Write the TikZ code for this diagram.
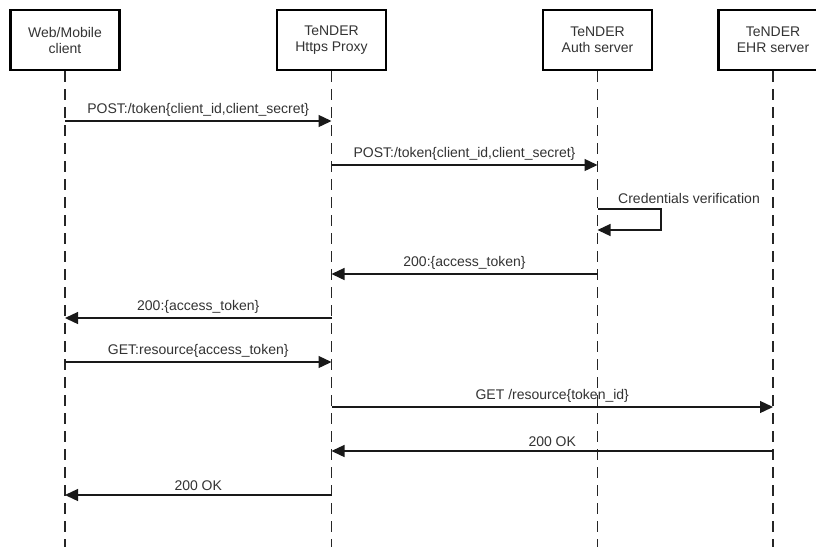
\documentclass[tikz,border=0pt]{standalone}
\usepackage{fontspec}
\setmainfont{Liberation Sans}
\usetikzlibrary{arrows.meta}
\begin{document}
\begin{tikzpicture}[x=1pt,y=-1pt,
  font=\fontsize{14}{16}\selectfont,
  actor/.style={draw, line width=2.4pt, minimum width=109pt, minimum height=60pt, align=center, inner sep=2pt, fill=white, text=black!80},
  life/.style={line width=1.1pt, dash pattern=on 11pt off 7pt, black!85},
  msg/.style={line width=1.3pt, black!90, -{Triangle[length=13pt,width=12pt]}},
  lbl/.style={text=black!80, inner sep=0pt, font=\fontsize{14}{16}\selectfont}
]
\useasboundingbox (0,0) rectangle (816,547);
\clip (0,0) rectangle (816,547);
\fill[white] (0,0) rectangle (816,547);

% lifelines
\coordinate (wb) at (65,547);
\coordinate (pb) at (331.5,547);
\coordinate (ab) at (597.5,547);
\coordinate (eb) at (773,547);

\node[actor] (web) at (65,40) {Web/Mobile\\client};
\node[actor] (proxy) at (331.5,40) {TeNDER\\Https Proxy};
\node[actor] (auth) at (597.5,40) {TeNDER\\Auth server};
\node[actor] (ehr) at (773,40) {TeNDER\\EHR server};

\draw[life] (web.south) -- (wb);
\draw[life] (proxy.south) -- (pb);
\draw[life] (auth.south) -- (ab);
\draw[life] (ehr.south) -- (eb);

% message coordinates
\coordinate (w1) at (65,121);   \coordinate (p1) at (331.5,121);
\coordinate (p2) at (331.5,165); \coordinate (a2) at (597.5,165);
\coordinate (a3) at (597.5,209); \coordinate (a3b) at (597.5,230);
\coordinate (a4) at (597.5,274); \coordinate (p4) at (331.5,274);
\coordinate (p5) at (331.5,318); \coordinate (w5) at (65,318);
\coordinate (w6) at (65,362);   \coordinate (p6) at (331.5,362);
\coordinate (p7) at (331.5,407); \coordinate (e7) at (773,407);
\coordinate (e8) at (773,451);  \coordinate (p8) at (331.5,451);
\coordinate (p9) at (331.5,495); \coordinate (w9) at (65,495);

\draw[msg] (w1) -- node[lbl, above=4pt] (l1) {POST:/token\{client\_id,client\_secret\}} (p1);
\draw[msg] (p2) -- node[lbl, above=4pt] (l2) {POST:/token\{client\_id,client\_secret\}} (a2);
\draw[msg] (a3) -- ++(63.5,0) coordinate (c3) |- (a3b);
\node[lbl, anchor=south west] (l3) at (618,204) {Credentials verification};
\draw[msg] (a4) -- node[lbl, above=4pt] (l4) {200:\{access\_token\}} (p4);
\draw[msg] (p5) -- node[lbl, above=4pt] (l5) {200:\{access\_token\}} (w5);
\draw[msg] (w6) -- node[lbl, above=4pt] (l6) {GET:resource\{access\_token\}} (p6);
\draw[msg] (p7) -- node[lbl, above=4pt] (l7) {GET /resource\{token\_id\}} (e7);
\draw[msg] (e8) -- node[lbl, above=4pt] (l8) {200 OK} (p8);
\draw[msg] (p9) -- node[lbl, above=4pt] (l9) {200 OK} (w9);
\end{tikzpicture}
\end{document}
